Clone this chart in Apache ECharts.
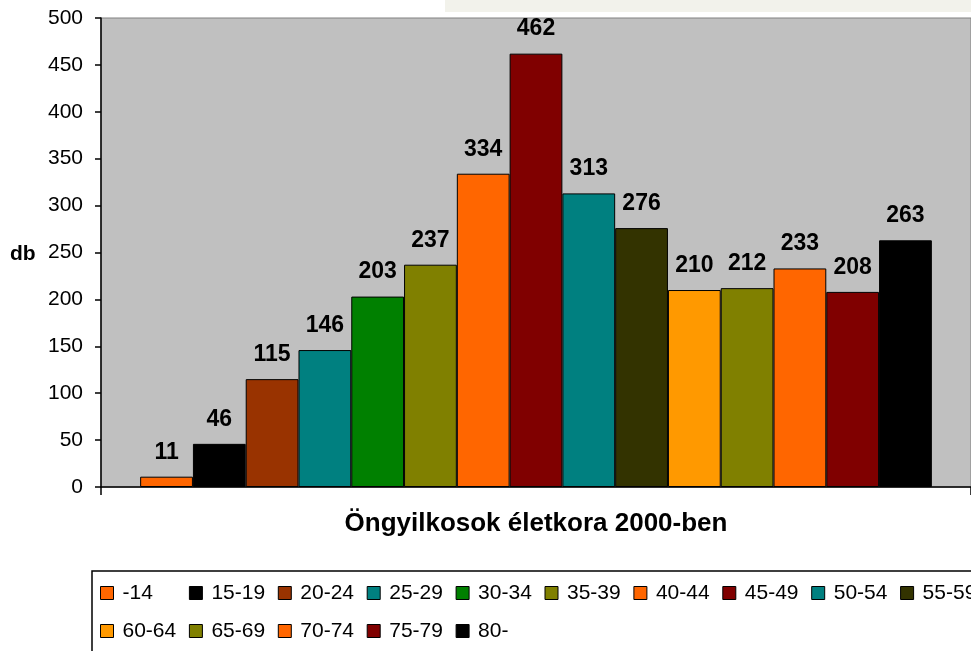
<!DOCTYPE html>
<html>
<head>
<meta charset="utf-8">
<script src="https://cdn.jsdelivr.net/npm/echarts@6/dist/echarts.min.js"></script>
<style>
    html, body { margin: 0; padding: 0; background: #fff; }
    #chart { width: 971px; height: 651px; }
</style>
</head>
<body>
<div id="chart"></div>
<script>
    // korcsoportok es ongyilkossagok szama (2000)
    var ageGroups = ['-14', '15-19', '20-24', '25-29', '30-34', '35-39', '40-44', '45-49',
        '50-54', '55-59', '60-64', '65-69', '70-74', '75-79', '80-'];
    var counts = [11, 46, 115, 146, 203, 237, 334, 462, 313, 276, 210, 212, 233, 208, 263];
    var barColors = ['#FF6600', '#000000', '#993300', '#008080', '#008000', '#808000', '#FF6600',
        '#800000', '#008080', '#333300', '#FF9900', '#808000', '#FF6600', '#800000', '#000000'];
    var yTicks = { min: 0, max: 500, interval: 50 };

    var font = '"Liberation Sans", Arial';
    var chart = echarts.init(document.getElementById('chart'));

    var series = ageGroups.map(function (name, i) {
        return {
            name: name,
            type: 'bar',
            data: [counts[i]],
            barGap: '0%',
            barCategoryGap: '9%',
            itemStyle: {
                color: barColors[i],
                borderColor: '#000',
                borderWidth: 1
            },
            label: {
                show: true,
                position: 'top',
                distance: 13,
                color: '#000',
                fontFamily: font,
                fontWeight: 'bold',
                fontSize: 23
            }
        };
    });

    chart.setOption({
        animation: false,
        textStyle: { fontFamily: font },
        graphic: [
            {
                type: 'rect',
                shape: { x: 445, y: 0, width: 526, height: 12 },
                style: { fill: '#F2F2EB' }
            },
            {
                type: 'text',
                left: 10,
                top: 244,
                style: {
                    text: 'db',
                    fill: '#000',
                    font: 'bold 21px "Liberation Sans", Arial'
                }
            }
        ],
        grid: {
            left: 101,
            top: 18,
            width: 872,
            height: 469,
            show: true,
            backgroundColor: '#C0C0C0',
            borderColor: '#808080',
            borderWidth: 1
        },
        legend: {
            data: ageGroups,
            left: 92,
            top: 571,
            width: 900,
            orient: 'horizontal',
            padding: [3, 10, 20, 8],
            itemGap: 0,
            itemWidth: 13,
            itemHeight: 13,
            icon: 'rect',
            borderColor: '#000',
            borderWidth: 1.5,
            itemStyle: { borderColor: '#000', borderWidth: 1 },
            textStyle: {
                color: '#000',
                fontSize: 21,
                fontFamily: font,
                width: 66.4,
                lineHeight: 38,
                padding: [0, 0, 0, 4]
            }
        },
        xAxis: {
            type: 'category',
            data: [''],
            name: 'Öngyilkosok életkora 2000-ben',
            nameLocation: 'middle',
            nameGap: 24,
            nameTextStyle: {
                color: '#000',
                fontWeight: 'bold',
                fontSize: 26,
                fontFamily: font
            },
            axisLine: { lineStyle: { color: '#000', width: 1.5 } },
            axisTick: { show: true, length: 8, lineStyle: { color: '#000', width: 1.5 } },
            axisLabel: { show: false },
            splitLine: { show: false }
        },
        yAxis: {
            type: 'value',
            min: yTicks.min,
            max: yTicks.max,
            interval: yTicks.interval,
            axisLine: { show: true, lineStyle: { color: '#000', width: 1.5 } },
            axisTick: { show: true, length: 6, lineStyle: { color: '#000', width: 1.5 } },
            axisLabel: {
                color: '#000',
                fontSize: 21,
                fontFamily: font,
                margin: 18
            },
            splitLine: { show: false }
        },
        series: series
    });
</script>
</body>
</html>
